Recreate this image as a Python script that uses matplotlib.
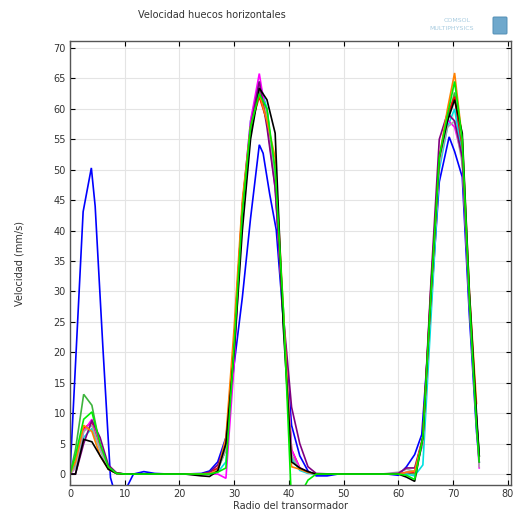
import numpy as np
import matplotlib
matplotlib.use("Agg")
import matplotlib.pyplot as plt
from matplotlib.patches import FancyBboxPatch

nan = np.nan

# radial positions (mm) shared by most of the curves
radius = [0, 1, 2.5, 4, 5.5, 7, 8.5, 10, 12, 15, 18, 21, 24, 25.5, 27, 28.5,
          30, 31.5, 33, 34.6, 36, 37.5, 39, 40.5, 42, 43.5, 45, 48, 51, 54,
          57, 60, 61.5, 63, 64.5, 66, 67.5, 69, 70.3, 71.7, 73, 74.3, 74.8]

# the blue curve was sampled on its own positions
radius_blue = [0, 2.4, 3.9, 4.6, 6.0, 7.4, 8.8, 10.2, 11.6, 13.5, 15.5, 18, 21,
               24, 25.5, 27, 28.5, 30, 31.5, 33, 34.6, 35.3, 36.5, 37.7, 38.9,
               40.5, 42, 43.5, 45, 47, 49, 52, 55, 58, 60, 61.5, 63, 64.3, 66,
               67.5, 69.3, 70.3, 71.7, 73, 74.3, 74.8]
v_blue = [0, 43.1, 50.3, 44, 21, -0.6, -5, -2.5, 0, 0.4, 0.1, 0, 0,
          0.1, 0.5, 2.0, 6, 18, 29, 42, 54.1, 52.7, 46, 40.1, 26.4,
          8, 3, 0.5, -0.3, -0.3, 0, 0, 0, 0, -0.2, 1.2, 3.2, 6.5, 28,
          48, 55.4, 53, 48.8, 26, 7, 2]

v_green = [0, 4, 13.1, 11.3, 4.5, 1.0, 0.2, 0, 0, 0, 0, 0, 0, 0.1, 0.8, 4,
           22, 43, 56, 63.5, 60, 48, 25, 3, 0.8, 0.2, 0, 0, 0, 0,
           0, 0, 0.2, 0, 6, 31, 51, 58, 62.7, 53, 28, 8, 3]
v_red = [0, 2, 7.5, 8.5, 4.5, 1, 0.1, 0, 0, 0, 0, 0, 0, 0.2, 1, 4,
         22, 44, 57, 62, 58, 48, 26, 4, 1, 0.3, 0, 0, 0, 0,
         0, 0, 0.2, 0.3, 6, 31, 52, 59, 62, 52, 28, 9, 3]
v_cyan = [0, 1.5, 6, 7.5, 4, 0.8, 0.1, 0, 0, 0, 0, 0, 0, 0, 0.3, 2,
          20, 44, 58, 64.5, 60, 48, 27, 2.6, 0.6, 0.1, 0, 0, 0, 0,
          0, 0, 0, -0.3, 1.5, 26, 50, 57, 60, 52, 28, 9, 3]
v_magenta = [0, 1, 7, 9, 5, 1, 0.1, 0, 0, 0, 0, 0, 0, 0, 0, -0.7,
             18, 44, 58, 65.8, 58, 47, 26, 4, 1, 0.3, 0, 0, 0, 0,
             0, 0, 0.3, 0.5, 5, 30, 51, 58.2, 57, 52, 29, 9, 1]
v_purple = [0, 0, 5, 8.8, 6, 1.5, 0.2, 0, 0, 0, 0, 0, 0, 0.3, 1.5, 5,
            22, 44, 57, 64.5, 57, 47, 26, 11, 5, 1.2, 0.1, 0, 0, 0,
            0, 0.1, 1, 1, 6, 32, 55, 59.3, 58, 52, 29, 9, 2]
v_orange = [0, 2, 8, 7, 3, 0.8, 0.1, 0, 0, 0, 0, 0, 0, 0.1, 0.5, 6,
            24, 45, 57, 62.5, 58, 52, 27, 1.2, 0.8, 0.3, 0, 0, 0, 0,
            0, 0, 0.3, 0.5, 6, 30, 52, 60, 65.9, 55, 30, 11.6, nan]
v_black = [0, 0, 5.7, 5.3, 3, 0.8, 0.1, 0, 0, 0, 0, 0, -0.3, -0.4, 0.5, 5,
           20, 40, 55, 63.4, 61.5, 56, 24, 2, 1, 0.4, 0, 0, 0, 0,
           0, 0, -0.5, -1.2, 6, 30, 52, 58, 61.5, 56, 30, 10, 3]
v_gray = [0, 1, 7, 8, 4, 0.8, 0.1, 0, 0, 0, 0, 0, 0, 0.1, 0.6, 4,
          21, 43, 57, 63, 59, 48, 26, 3, 0.8, 0.2, 0, 0, 0, 0,
          0, 0.3, 0.8, 0.4, 5, 29, 51, 57, 58, 51, 29, 9, 1.2]
v_lime = [0, 3, 9, 10.2, 5, 1.2, 0.1, 0, 0, 0, 0, 0, 0, 0, 0.3, 1,
          21, 43, 57, 62.5, 60, 50, 27, -5, -3.5, -1, 0, 0, 0, 0,
          0, 0, -0.2, -0.9, 6, 30, 52, 59, 64.5, 55, 29, 8, 2]

title = "Velocidad huecos horizontales"
x_label = "Radio del transormador"
y_label = "Velocidad (mm/s)"
x_ticks = [0, 10, 20, 30, 40, 50, 60, 70, 80]
y_ticks = [0, 5, 10, 15, 20, 25, 30, 35, 40, 45, 50, 55, 60, 65, 70]

fig = plt.figure(figsize=(5.15, 5.11), dpi=100)
ax = fig.add_axes([70 / 515, 1 - 485 / 511, (511.5 - 70) / 515, (485 - 41) / 511])

curves = [
    (radius_blue, v_blue, "#0000ff"),
    (radius, v_green, "#3cb43c"),
    (radius, v_red, "#ff0000"),
    (radius, v_cyan, "#00e0e0"),
    (radius, v_magenta, "#ff00ff"),
    (radius, v_gray, "#a8a8a8"),
    (radius, v_purple, "#800080"),
    (radius, v_orange, "#ff8000"),
    (radius, v_black, "#000000"),
    (radius, v_lime, "#00ee00"),
]
for xs, ys, c in curves:
    ax.plot(xs, ys, color=c, lw=1.2, solid_joinstyle="miter")

ax.set_xlim(0, 80.7)
ax.set_ylim(-1.8, 71.15)
ax.set_xticks(x_ticks)
ax.set_yticks(y_ticks)
ax.grid(True, color="#e4e4e4", lw=0.8)
ax.set_axisbelow(True)
ax.tick_params(direction="in", top=True, right=True, length=3.5, width=0.8,
               labelsize=7, labelcolor="#333333", pad=3)
for s in ax.spines.values():
    s.set_color("#555555")
    s.set_linewidth(1.0)

ax.set_xlabel(x_label, fontsize=7, color="#333333", labelpad=1)
ax.set_ylabel(y_label, fontsize=7, color="#333333", labelpad=21)
fig.text(212 / 515, 1 - 15 / 511, title, fontsize=7, color="#333333",
         ha="center", va="center")

# vendor badge in the upper right corner
fig.text(457 / 515, 1 - 21 / 511, "COMSOL", fontsize=4.5, color="#a9cce0",
         ha="center", va="center")
fig.text(452 / 515, 1 - 29 / 511, "MULTIPHYSICS", fontsize=4.5, color="#a9cce0",
         ha="center", va="center")
badge = FancyBboxPatch((494 / 515, 1 - 33 / 511), 12 / 515, 15 / 511,
                       boxstyle="round,pad=0.002", transform=fig.transFigure,
                       facecolor="#6fa8cc", edgecolor="#4a88b0", lw=0.6)
fig.patches.append(badge)

fig.savefig("out.png", dpi=100)
